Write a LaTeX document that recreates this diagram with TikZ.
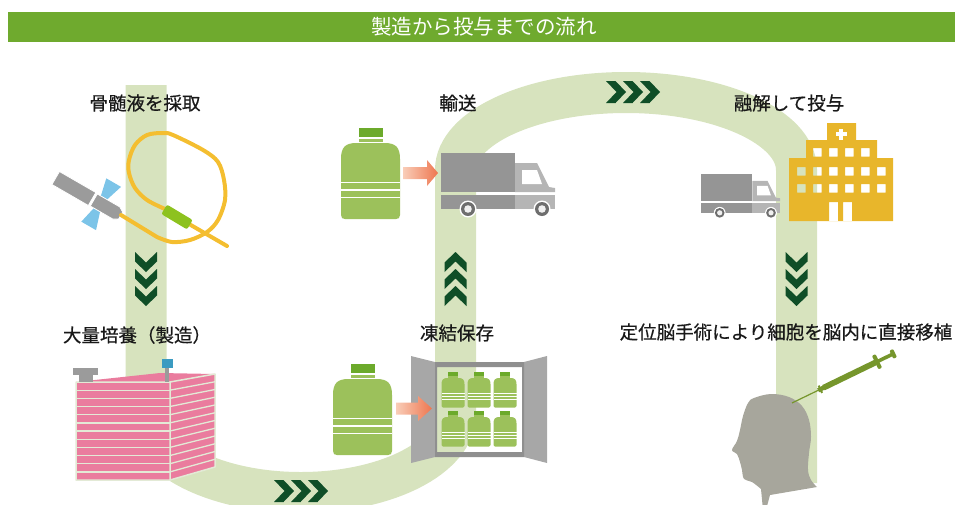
\documentclass[tikz,border=0pt]{standalone}
\usepackage{fontspec}
\setmainfont{Noto Sans CJK JP}
\newfontfamily\stagefont{Noto Sans CJK JP}[FakeBold=0.6]
\usepackage{xcolor}
\usepackage{tikz}
\definecolor{bargreen}{HTML}{6FAA2E}
\definecolor{bandgreen}{HTML}{D7E3BE}
\definecolor{chevgreen}{HTML}{0F4E27}
\definecolor{bottlegreen}{HTML}{9CC15B}
\definecolor{capgreen}{HTML}{6CAA2B}
\definecolor{pinkbox}{HTML}{EA7C9E}
\definecolor{stripe}{HTML}{E3EAD6}
\definecolor{hospgold}{HTML}{E8B62B}
\definecolor{truckdark}{HTML}{959595}
\definecolor{trucklight}{HTML}{B5B5B5}
\definecolor{wheelgray}{HTML}{6E6E6E}
\definecolor{headgray}{HTML}{A7A69C}
\definecolor{syringegreen}{HTML}{76962C}
\definecolor{tubeyellow}{HTML}{F4BE30}
\definecolor{wingblue}{HTML}{7CC4E8}
\definecolor{capblue}{HTML}{3B9BC1}
\definecolor{needlegray}{HTML}{9B9B9B}
\definecolor{connector}{HTML}{8DC21F}
\definecolor{fridgedoor}{HTML}{A7A7A7}
\definecolor{fridgeframe}{HTML}{8F8F8F}
\definecolor{arrowlight}{HTML}{F9CDB8}
\definecolor{arrowdark}{HTML}{EE764F}
\tikzset{
  stage/.style={font=\stagefont\fontsize{18.5}{22}\selectfont,text=black!90,inner sep=0pt},
  flow/.style={draw=bandgreen,line width=41pt},
  push/.style={left color=arrowlight,right color=arrowdark},
  chevrons/.pic={
    \foreach \d in {-17,0,17}
      \fill[chevgreen,shift={(\d,0)}] (-10,-11) -- (-0.5,-11) -- (10,0) -- (-0.5,11) -- (-10,11) -- (0.5,0) -- cycle;
  },
  bottle/.pic={
    \fill[capgreen] (-12,-15) rectangle (12,-6);
    \fill[bottlegreen] (-12,-4) rectangle (12,-1);
    \fill[bottlegreen] (-29.5,72) -- (-29.5,16) .. controls (-29.5,4) and (-25,0) .. (-14,0) -- (14,0)
      .. controls (25,0) and (29.5,4) .. (29.5,16) -- (29.5,72) .. controls (29.5,75) and (28,76) .. (25.5,76)
      -- (-25.5,76) .. controls (-28,76) and (-29.5,75) .. (-29.5,72) -- cycle;
    \foreach \s in {38.5,46,53.5}
      \fill[white] (-29.5,\s) rectangle (29.5,\s+1.6);
  },
  truck/.pic={
    \fill[truckdark] (0,0) rectangle (74,39);
    \fill[trucklight] (74,10) -- (96,10) -- (108,34) -- (114,35) -- (114,39) -- (74,39) -- cycle;
    \fill[white] (81,17) -- (96,17) -- (101,31) -- (81,31) -- cycle;
    \fill[truckdark] (0,42) rectangle (74,56);
    \fill[trucklight] (74,42) rectangle (114,56);
    \foreach \w in {27,101} {
      \fill[white] (\w,56) circle[radius=8.5];
      \fill[wheelgray] (\w,56) circle[radius=7];
      \fill[white!88!gray] (\w,56) circle[radius=3.8];
    }
  },
}

\begin{document}
\begin{tikzpicture}[x=1pt,y=-1pt]
\useasboundingbox (0,0) rectangle (955,504);
\clip (0,0) rectangle (955,504);

\fill[bargreen] (8,12) rectangle (955,42);
\node[font=\fontsize{20.5}{24}\selectfont,text=white,inner sep=0pt] (title) at (484,27) {製造から投与までの流れ};

\draw[flow] (146,85) -- (146,414)
  arc[start angle=180,end angle=0,x radius=154.75,y radius=78.5] -- (455.5,170)
  arc[start angle=180,end angle=360,x radius=170.5,y radius=77.5] -- (796.5,483);

\pic[rotate=-90] at (146,279) {chevrons};
\pic[rotate=90] at (455.5,279) {chevrons};
\pic[rotate=-90] at (796.5,279) {chevrons};
\pic at (301,491) {chevrons};
\pic at (633,92) {chevrons};

\node[stage] (marrow) at (145,103) {骨髄液を採取};
\node[stage] (transport) at (458,103) {輸送};
\node[stage] (thaw) at (789,103) {融解して投与};
\node[stage] (culture) at (137,335) {大量培養（製造）};
\node[stage] (freeze) at (457,333) {凍結保存};
\node[stage] (implant) at (786,332) {定位脳手術により細胞を脳内に直接移植};

\begin{scope}[shift={(99,203)},rotate=-30]
  \fill[wingblue] (-1,-3) -- (4,-3) -- (11,-25) -- (-6,-25) -- cycle;
  \fill[wingblue] (-1,3) -- (4,3) -- (11,25) -- (-6,25) -- cycle;
  \filldraw[needlegray,draw=white,line width=0.8] (-50,-7.5) rectangle (-8,7.5);
  \filldraw[needlegray,draw=white,line width=0.8] (-6,-7) -- (20,-7) -- (25,-4) -- (25,4) -- (20,7) -- (-6,7) -- cycle;
\end{scope}
\draw[tubeyellow,line width=4,line cap=round] (121,215) -- plot[smooth,tension=0.55] coordinates {(157,237) (172,242) (190,240) (207,232) (218,220) (225,200) (224,180) (218,162) (203,150) (173,135) (163,133) (147,135) (135,145) (129,160) (129,173) (135,188) (147,200) (165,209)};
\draw[tubeyellow,line width=4,line cap=round] (189,224) -- (227,246);
\fill[connector,rounded corners=2pt,rotate around={-31:(177,217)}] (162,211.5) rectangle (192,222.5);

\fill[pinkbox] (76,382) -- (170,382) -- (215,374) -- (160,373) -- cycle;
\fill[pinkbox] (76,382) rectangle (170,480);
\fill[pinkbox] (170,382) -- (215,374) -- (215,467) -- (170,480) -- cycle;
\foreach \k in {1,...,11} {
  \draw[stripe,line width=1.3] (76,382+\k*8.17) -- (170,382+\k*8.17);
  \draw[stripe,line width=1.3] (170,382+\k*8.17) -- (215,374+\k*7.75);
}
\draw[stripe,line width=1.5,line join=round] (76,382) rectangle (170,480) (170,382) -- (215,374) -- (215,467) -- (170,480);
\fill[needlegray] (73,368) rectangle (98,375);
\fill[needlegray] (79,375) rectangle (93,382);
\fill[needlegray] (165,368) rectangle (169,382);
\fill[capblue] (162,359) rectangle (173,368);

\pic at (370.5,143) {bottle};
\shade[push] (403,167) -- (427,167) -- (427,160) -- (438,173) -- (427,186) -- (427,179) -- (403,179) -- cycle;
\pic at (441,153) {truck};

\pic at (362.5,379) {bottle};
\fill[fridgedoor] (411,356) -- (435,362) -- (435,457) -- (411,463) -- cycle;
\fill[fridgedoor] (524,362) -- (547,356) -- (547,463) -- (524,457) -- cycle;
\fill[fridgeframe,even odd rule] (435,362) rectangle (524,457) (437,367) rectangle (522,452);
\foreach \x in {453,479,505}
  \foreach \y in {378,417}
    \pic[scale=0.39] at (\x,\y) {bottle};
\shade[push] (396,402.5) -- (418,402.5) -- (418,396) -- (432,408.5) -- (418,421) -- (418,414.5) -- (396,414.5) -- cycle;

\pic[scale=0.693] at (701,174) {truck};
\fill[hospgold,even odd rule] (789,221) -- (789,158) -- (806,158) -- (806,140) -- (827,140) -- (827,123)
  -- (856,123) -- (856,140) -- (877,140) -- (877,158) -- (893,158) -- (893,221) -- cycle
  foreach \x in {813,829,845,861} {(\x,148) rectangle ++(8.5,8.5)}
  foreach \x in {797,813,829,845,861,877} {(\x,167) rectangle ++(8.5,8.5) (\x,184) rectangle ++(8.5,8.5)}
  (829,202) rectangle (838,221) (843,202) rectangle (852,221);
\fill[white] (839.3,128.5) rectangle (842.7,139.5);
\fill[white] (835.5,132.3) rectangle (846.5,135.7);

\fill[headgray] (763,510) -- plot[smooth,tension=0.6] coordinates {(761,489) (752,482) (744,479) (742,470) (740,462) (737,454) (732,450) (737,441) (740,430) (743,416) (748,403) (754,398) (771,394) (789,397) (802,406) (809,420) (811,437) (809,453) (808,470) (811,480) (817,487)} -- (770,495) -- (766,510) -- cycle;

\begin{scope}[shift={(792,403)},rotate=25.9]
  \draw[syringegreen,line width=1.2] (0,0) -- (31,0);
  \fill[syringegreen] (29,-2.2) rectangle (37,2.2);
  \fill[syringegreen] (30.5,-4) rectangle (32.5,4);
  \fill[syringegreen] (35,-2.9) rectangle (93,2.9);
  \fill[syringegreen,rounded corners=1pt] (92.5,-7.5) rectangle (96.5,7.5);
  \fill[syringegreen] (95,-1.8) rectangle (112,1.8);
  \fill[syringegreen,rounded corners=1pt] (110.5,-4.5) rectangle (114.5,4.5);
\end{scope}
\end{tikzpicture}
\end{document}
